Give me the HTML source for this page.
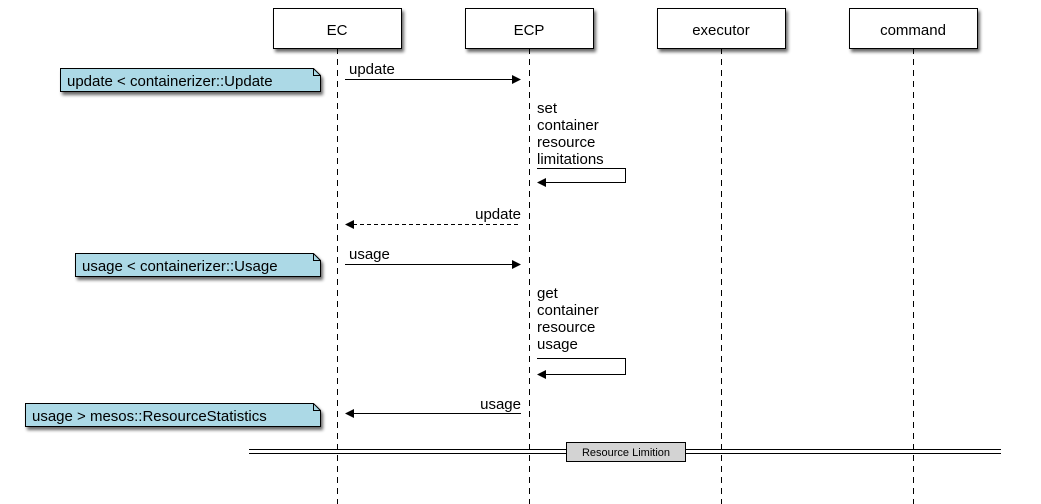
<!DOCTYPE html>
<html><head><meta charset="utf-8"><style>
html,body{margin:0;padding:0;background:#fff;}
svg{display:block;font-family:"Liberation Sans",sans-serif;}
</style></head><body>
<svg width="1041" height="504" viewBox="0 0 1041 504" xmlns="http://www.w3.org/2000/svg">
<defs>
<filter id="sh" x="-10%" y="-10%" width="130%" height="150%"><feGaussianBlur in="SourceAlpha" stdDeviation="1.5"/><feOffset dx="2" dy="3"/><feComponentTransfer><feFuncA type="linear" slope="0.6"/></feComponentTransfer><feMerge><feMergeNode/><feMergeNode in="SourceGraphic"/></feMerge></filter>
</defs>
<!-- lifelines -->
<g stroke="#000" stroke-width="1" stroke-dasharray="6,5">
<line x1="337.5" y1="48" x2="337.5" y2="504"/>
<line x1="529.5" y1="48" x2="529.5" y2="504"/>
<line x1="721.5" y1="48" x2="721.5" y2="504"/>
<line x1="913.5" y1="48" x2="913.5" y2="504"/>
</g>
<!-- participant boxes -->
<g fill="#fff" stroke="#000" filter="url(#sh)">
<rect x="273.5" y="8.5" width="128" height="40"/>
<rect x="465.5" y="8.5" width="128" height="40"/>
<rect x="657.5" y="8.5" width="128" height="40"/>
<rect x="849.5" y="8.5" width="128" height="40"/>
</g>
<g font-size="15" text-anchor="middle" fill="#000">
<text x="337" y="35">EC</text>
<text x="529" y="35">ECP</text>
<text x="721" y="35">executor</text>
<text x="913" y="35">command</text>
</g>
<!-- notes -->
<g fill="#acd9e6" stroke="#000" filter="url(#sh)">
<path d="M60.5 68.5 H313.5 L320.5 75.5 V91.5 H60.5 Z"/>
<path d="M75.5 253.5 H313.5 L320.5 260.5 V276.5 H75.5 Z"/>
<path d="M25.5 403.5 H313.5 L320.5 410.5 V426.5 H25.5 Z"/>
</g>
<g fill="none" stroke="#000">
<path d="M313.5 68.5 V75.5 H320.5"/>
<path d="M313.5 253.5 V260.5 H320.5"/>
<path d="M313.5 403.5 V410.5 H320.5"/>
</g>
<g font-size="15" fill="#000">
<text x="67" y="86">update &lt; containerizer::Update</text>
<text x="82" y="271">usage &lt; containerizer::Usage</text>
<text x="32" y="421">usage &gt; mesos::ResourceStatistics</text>
</g>
<!-- messages -->
<g stroke="#000" stroke-width="1" fill="none">
<line x1="345" y1="79.5" x2="513" y2="79.5"/>
<path d="M537 168.5 H625.5 V182.5 H545"/>
<line x1="353" y1="224.5" x2="521" y2="224.5" stroke-dasharray="4,3"/>
<line x1="345" y1="264.5" x2="513" y2="264.5"/>
<path d="M537 358.5 H625.5 V374.5 H545"/>
<line x1="353" y1="413.5" x2="521" y2="413.5"/>
</g>
<g fill="#000">
<path d="M521 79.5 L512 75 L512 84 Z"/>
<path d="M537 182.5 L546 178 L546 187 Z"/>
<path d="M345 224.5 L354 220 L354 229 Z"/>
<path d="M521 264.5 L512 260 L512 269 Z"/>
<path d="M537 374.5 L546 370 L546 379 Z"/>
<path d="M345 413.5 L354 409 L354 418 Z"/>
</g>
<g font-size="15" fill="#000">
<text x="349" y="74">update</text>
<text x="537" y="113">set</text>
<text x="537" y="130">container</text>
<text x="537" y="147">resource</text>
<text x="537" y="164">limitations</text>
<text x="521" y="219" text-anchor="end">update</text>
<text x="349" y="259">usage</text>
<text x="537" y="298">get</text>
<text x="537" y="315">container</text>
<text x="537" y="332">resource</text>
<text x="537" y="349">usage</text>
<text x="521" y="409" text-anchor="end">usage</text>
</g>
<!-- divider -->
<g stroke="#000">
<line x1="249" y1="449.5" x2="1001" y2="449.5"/>
<line x1="249" y1="453.5" x2="1001" y2="453.5"/>
</g>
<rect x="566.5" y="442.5" width="119" height="19" fill="#d3d3d3" stroke="#000"/>
<text x="626" y="456" font-size="11" text-anchor="middle" fill="#000">Resource Limition</text>
</svg>
</body></html>
